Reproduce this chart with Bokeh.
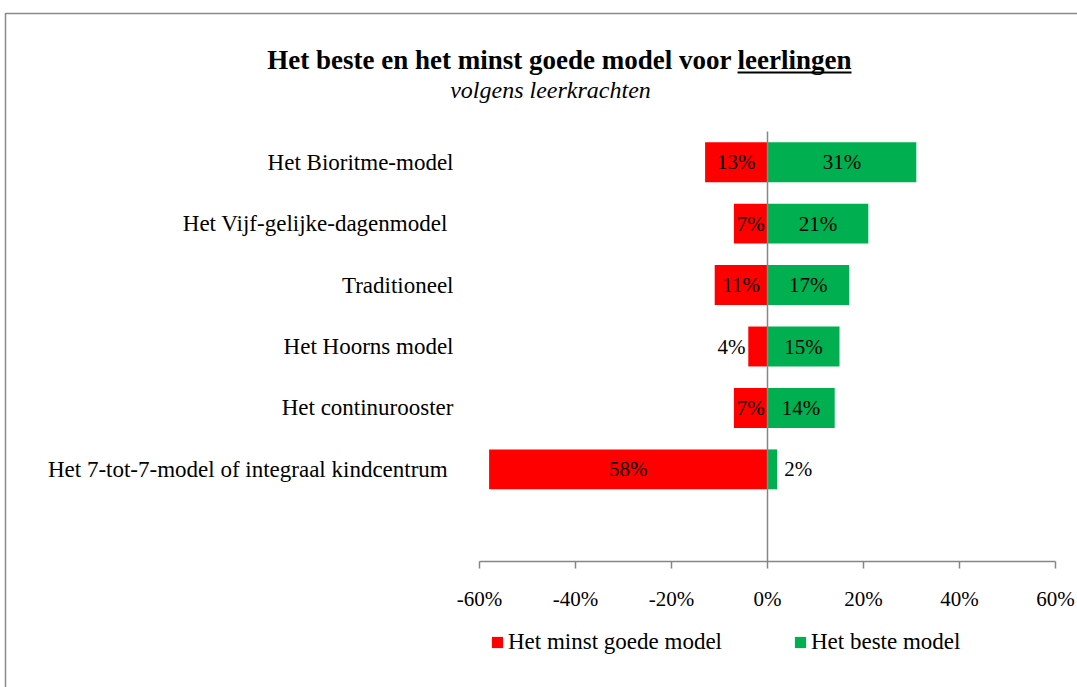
from bokeh.plotting import figure
from bokeh.models import (ColumnDataSource, Range1d, Label, BoxAnnotation,
                          Legend, LegendItem, FixedTicker, CustomJSTickFormatter)
from bokeh.core.properties import value
from bokeh.embed import file_html
from bokeh.resources import INLINE

# ---- data ----
categories = ["Het Bioritme-model", "Het Vijf-gelijke-dagenmodel ", "Traditioneel",
              "Het Hoorns model", "Het continurooster",
              "Het 7-tot-7-model  of integraal kindcentrum"]
best = [31, 21, 17, 15, 14, 2]
worst = [13, 7, 11, 4, 7, 58]
x_ticks = [-60, -40, -20, 0, 20, 40, 60]
series_names = ["Het minst goede model", "Het beste model"]
title_main = "Het beste en het minst goede model voor"
title_ul = "leerlingen"
subtitle = "volgens leerkrachten"

FONT = "Liberation Serif"
RED = "#FF0000"
GREEN = "#00B050"
GRAY = "#868686"

W, H = 1077, 687
# layout of the value area on the page (pixels)
AX_L, AX_R, AX_T, AX_B = 479, 1055, 131, 561
n = len(categories)
x_min, x_max = x_ticks[0], x_ticks[-1]
px_x = (AX_R - AX_L) / (x_max - x_min)
y_lo, y_hi = -0.5, n + 0.5          # one empty slot below the last category
px_y = (AX_B - AX_T) / (y_hi - y_lo)

x_range = Range1d(x_min - AX_L / px_x, x_max + (W - AX_R) / px_x)
y_range = Range1d(y_lo - (H - AX_B) / px_y, y_hi + AX_T / px_y)

p = figure(width=W, height=H, x_range=x_range, y_range=y_range,
           output_backend="svg", toolbar_location=None,
           min_border_left=0, min_border_right=0, min_border_top=0, min_border_bottom=0)
p.title.visible = False
p.outline_line_color = None
p.xgrid.visible = False
p.ygrid.visible = False

ypos = [n - i for i in range(n)]  # top category highest

# bars
src_w = ColumnDataSource(dict(y=ypos, left=[-v for v in worst], right=[0] * n))
src_b = ColumnDataSource(dict(y=ypos, left=[0] * n, right=best))
r_w = p.hbar(y="y", left="left", right="right", height=0.65, source=src_w,
             fill_color=RED, line_color=None)
r_b = p.hbar(y="y", left="left", right="right", height=0.65, source=src_b,
             fill_color=GREEN, line_color=None)

# zero line (vertical axis)
p.segment(x0=[0], y0=[y_lo], x1=[0], y1=[y_hi], line_color=GRAY, line_width=1.5)

# value labels
lw = dict(x=[(-v / 2 if v >= 5 else -v - 0.6) for v in worst], y=ypos,
          t=[f"{v}%" for v in worst],
          a=[("center" if v >= 5 else "right") for v in worst])
lb = dict(x=[(v / 2 if v >= 5 else v + 1.5) for v in best], y=ypos,
          t=[f"{v}%" for v in best],
          a=[("center" if v >= 5 else "left") for v in best])
for d in (lw, lb):
    p.text(x="x", y="y", text="t", text_align="a", source=ColumnDataSource(d),
           text_baseline="middle", text_font=value(FONT), text_font_size="21px",
           text_color="black")

# x axis
xa = p.xaxis[0]
xa.fixed_location = y_lo
xa.bounds = (x_min, x_max)
xa.ticker = FixedTicker(ticks=x_ticks)
xa.formatter = CustomJSTickFormatter(code="return tick + '%';")
xa.axis_line_color = GRAY
xa.axis_line_width = 1.5
xa.major_tick_line_color = GRAY
xa.major_tick_line_width = 1.5
xa.major_tick_out = 7
xa.major_tick_in = 0
xa.minor_tick_line_color = None
xa.major_label_text_font = FONT
xa.major_label_text_font_size = "21px"
xa.major_label_text_color = "black"
xa.major_label_standoff = 18

# y axis (category names)
ya = p.yaxis[0]
ya.fixed_location = x_min
ya.ticker = FixedTicker(ticks=ypos)
ya.formatter = CustomJSTickFormatter(args=dict(labels=categories, n=n),
                                     code="return labels[n - tick] || '';")
ya.axis_line_color = None
ya.major_tick_line_color = None
ya.major_tick_out = 0
ya.major_tick_in = 0
ya.minor_tick_line_color = None
ya.major_label_text_font = FONT
ya.major_label_text_font_size = "23px"
ya.major_label_text_color = "black"
ya.major_label_standoff = 26

# legend
legend = Legend(items=[LegendItem(label=series_names[0], renderers=[r_w]),
                       LegendItem(label=series_names[1], renderers=[r_b])],
                orientation="horizontal", location=(490, 32),
                border_line_color=None, background_fill_alpha=0,
                padding=0, margin=0, glyph_width=14, glyph_height=14,
                label_standoff=4, spacing=71, label_text_font=FONT,
                label_text_font_size="23px", label_text_color="black")
p.add_layout(legend, "center")

# titles (screen units, origin bottom-left)
p.add_layout(Label(x=731, y=H - 59, x_units="screen", y_units="screen", text=title_main,
                   text_align="right", text_baseline="alphabetic", text_font=FONT,
                   text_font_size="27px", text_font_style="bold", text_color="black"))
p.add_layout(Label(x=737, y=H - 59, x_units="screen", y_units="screen", text=title_ul,
                   text_align="left", text_baseline="alphabetic", text_font=FONT,
                   text_font_size="27px", text_font_style="bold", text_color="black"))
p.add_layout(BoxAnnotation(left=737, right=851, top=H - 71, bottom=H - 73,
                           left_units="screen", right_units="screen",
                           top_units="screen", bottom_units="screen",
                           fill_color="black", fill_alpha=1, line_color=None))
p.add_layout(Label(x=550, y=H - 89, x_units="screen", y_units="screen", text=subtitle,
                   text_align="center", text_baseline="alphabetic", text_font=FONT,
                   text_font_size="24px", text_font_style="italic", text_color="black"))

# outer frame
p.add_layout(BoxAnnotation(left=5, right=W + 100, top=H - 13, bottom=-100,
                           left_units="screen", right_units="screen",
                           top_units="screen", bottom_units="screen",
                           fill_alpha=0, line_color="#8a8a8a", line_alpha=1,
                           line_width=1.5))

open("out.html", "w").write(file_html(p, INLINE))
